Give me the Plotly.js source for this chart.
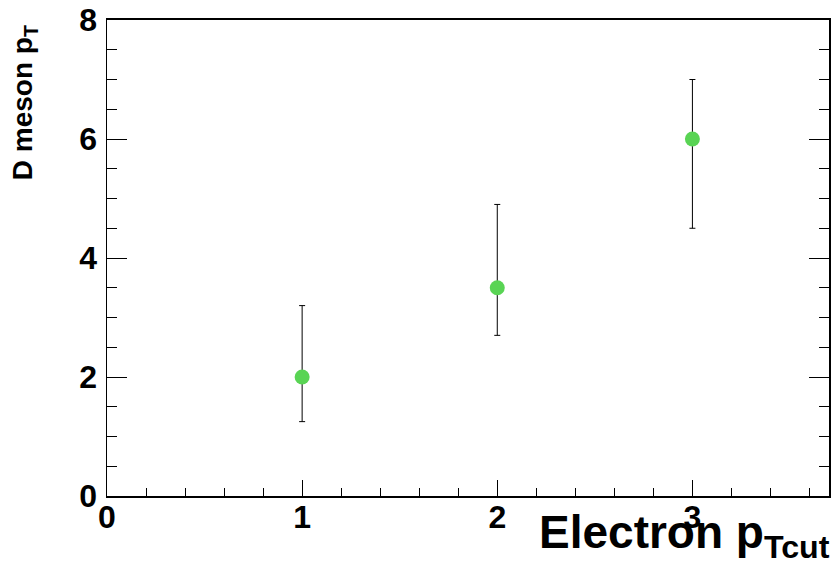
<!DOCTYPE html>
<html>
<head>
<meta charset="utf-8">
<script src="https://cdn.plot.ly/plotly-3.0.1.min.js"></script>
<style>html,body{margin:0;padding:0;background:#fff;}#chart{width:834px;height:564px;}</style>
</head>
<body>
<div id="chart"></div>
<script>
const electronPtCut = [1, 2, 3];
const dMesonPt = [2, 3.5, 6];
const errUp = [1.2, 1.4, 1.0];
const errDown = [0.75, 0.8, 1.5];
const xTickVals = [0, 1, 2, 3];
const yTickVals = [0, 2, 4, 6, 8];

const fontFam = '"Liberation Sans", Arial, Helvetica, sans-serif';

const trace = {
  x: electronPtCut,
  y: dMesonPt,
  type: 'scatter',
  mode: 'markers',
  marker: {color: '#59d454', size: 15},
  error_y: {type: 'data', symmetric: false, array: errUp, arrayminus: errDown,
            color: '#000', thickness: 1, width: 3},
  showlegend: false,
  hoverinfo: 'x+y'
};

const layout = {
  width: 834, height: 564,
  margin: {l: 107, r: 5, t: 20, b: 68, pad: 0},
  paper_bgcolor: '#fff', plot_bgcolor: '#fff',
  font: {family: fontFam, color: '#000'},
  xaxis: {
    range: [0, 3.7], tickmode: 'array', tickvals: xTickVals,
    ticks: 'inside', ticklen: 16, tickwidth: 1, tickcolor: '#000',
    minor: {dtick: 0.2, ticks: 'inside', ticklen: 8, tickwidth: 1, tickcolor: '#000', showgrid: false},
    showline: true, linecolor: '#000', linewidth: 2, mirror: true,
    showgrid: false, zeroline: false,
    tickfont: {family: fontFam, size: 32, weight: 'bold', color: '#000'},
    ticklabelstandoff: -8,
    title: {text: ''}
  },
  yaxis: {
    range: [0, 8], tickmode: 'array', tickvals: yTickVals,
    ticks: 'inside', ticklen: 20, tickwidth: 1, tickcolor: '#000',
    minor: {dtick: 0.5, ticks: 'inside', ticklen: 10, tickwidth: 1, tickcolor: '#000', showgrid: false},
    showline: true, linecolor: '#000', linewidth: 1.5, mirror: 'ticks',
    showgrid: false, zeroline: false,
    tickfont: {family: fontFam, size: 32, weight: 'bold', color: '#000'},
    ticklabelstandoff: 2,
    title: {text: ''}
  },
  annotations: [{
    text: 'Electron p<sub>Tcut</sub>',
    xref: 'paper', yref: 'paper', x: 1.004, y: -0.016,
    xanchor: 'right', yanchor: 'top', showarrow: false,
    font: {family: fontFam, size: 46, weight: 'bold', color: '#000'}
  }, {
    text: 'D meson p<sub>T</sub>',
    xref: 'paper', yref: 'paper', x: -0.114, y: 0.8267,
    xanchor: 'center', yanchor: 'middle', textangle: -90, showarrow: false,
    font: {family: fontFam, size: 28, weight: 'bold', color: '#000'}
  }]
};

Plotly.newPlot('chart', [trace], layout, {displayModeBar: false, staticPlot: true});
</script>
</body>
</html>
